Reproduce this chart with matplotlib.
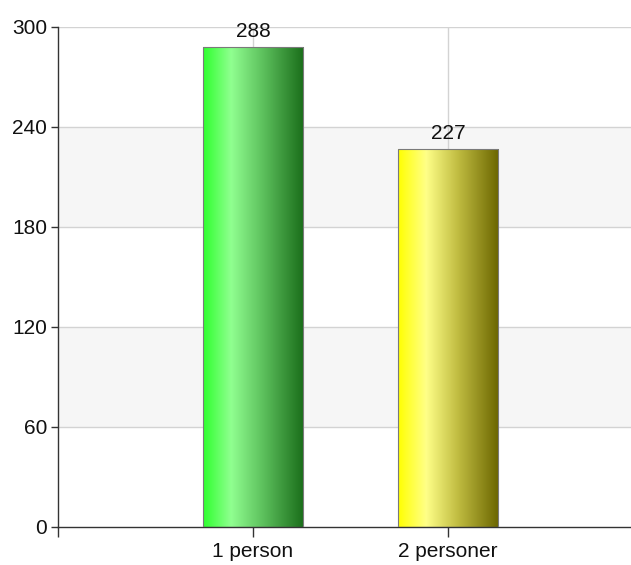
import numpy as np
import matplotlib.pyplot as plt
from matplotlib.colors import LinearSegmentedColormap

categories = ['1 person', '2 personer']
values = [288, 227]
y_ticks = [0, 60, 120, 180, 240, 300]

# gradient stops for each bar (left -> highlight -> right)
bar_colors = [
    ['#2eff2e', '#90ff90', '#5cbf5c', '#1a6e1a'],
    ['#ffff00', '#ffff88', '#bfbb40', '#6b6600'],
]
stops = [0.0, 0.28, 0.6, 1.0]

plt.rcParams['font.family'] = ['Liberation Sans', 'DejaVu Sans']

fig = plt.figure(figsize=(6.31, 5.65), dpi=100)
ax = fig.add_axes([58/631, 38/565, 585/631, 500/565])

# alternating bands
for lo in [60, 180]:
    ax.axhspan(lo, lo + 60, color='#f6f6f6', zorder=0, lw=0)
for t in y_ticks[1:]:
    ax.axhline(t, color='#d3d3d3', lw=1, zorder=1)
x = np.arange(len(categories))
for xi in x:
    ax.axvline(xi, color='#d3d3d3', lw=1, zorder=1)

width = 0.515
bars = ax.bar(x, values, width, color='none', edgecolor='#7a7a7a', lw=0.8, zorder=3)
grad = np.linspace(0, 1, 256).reshape(1, -1)
for b, cols in zip(bars, bar_colors):
    cmap = LinearSegmentedColormap.from_list('g', list(zip(stops, cols)))
    x0, y0 = b.get_x(), b.get_y()
    im = ax.imshow(grad, cmap=cmap, aspect='auto', zorder=2,
                   extent=[x0, x0 + b.get_width(), y0, y0 + b.get_height()])
    im.set_clip_path(b)

for xi, v in zip(x, values):
    ax.annotate(str(v), (xi, v), xytext=(0, 4), textcoords='offset points',
                ha='center', va='bottom', fontsize=15, color='#111111', zorder=4)

ax.set_xlim(-1, 2)
ax.set_ylim(0, 300)
ax.set_yticks(y_ticks)
ax.set_xticks([-1, 0, 1])
ax.set_xticklabels([''] + categories)
ax.tick_params(axis='both', labelsize=15, colors='#333333', labelcolor='#111111',
               length=5, width=1)
ax.tick_params(axis='x', length=7)
ax.tick_params(axis='y', pad=3)

for s in ['top', 'right']:
    ax.spines[s].set_visible(False)
for s in ['left', 'bottom']:
    ax.spines[s].set_color('#333333')
    ax.spines[s].set_linewidth(1)

fig.savefig('out.png', dpi=100)
